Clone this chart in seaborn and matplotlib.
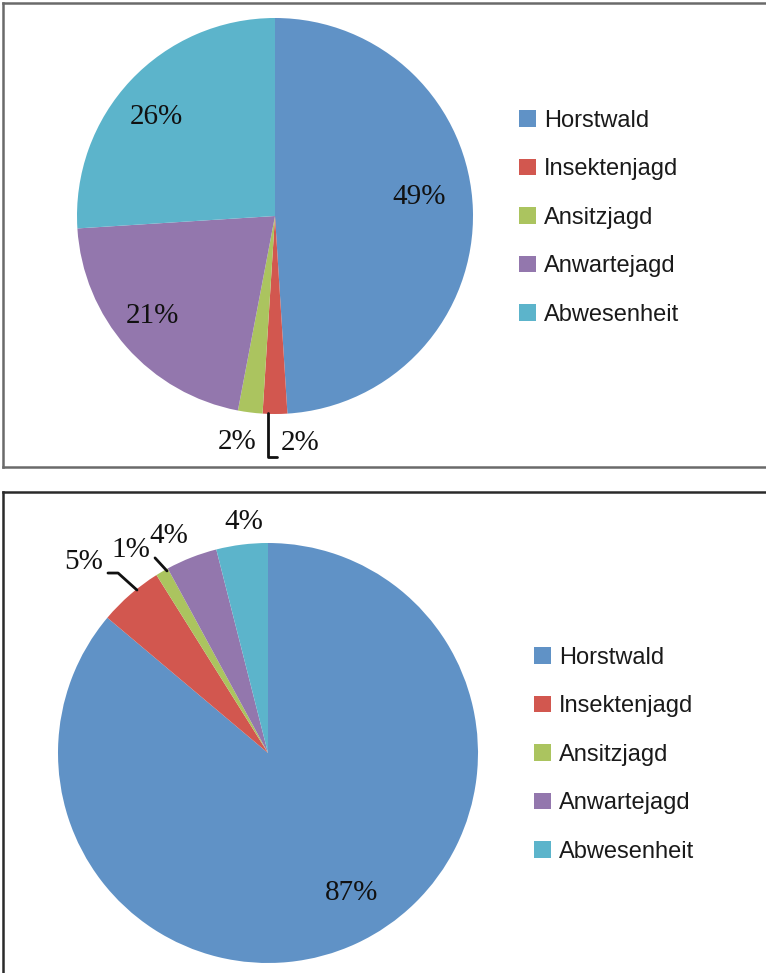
import matplotlib
matplotlib.use("Agg")
import matplotlib.pyplot as plt
import seaborn as sns
from matplotlib.lines import Line2D

# data
categories = ["Horstwald", "Insektenjagd", "Ansitzjagd", "Anwartejagd", "Abwesenheit"]
top_values = [49, 2, 2, 21, 26]
bottom_values = [87, 5, 1, 4, 4]
colors = ["#6092c6", "#d2574f", "#abc45f", "#9377ad", "#5cb4cb"]

sns.set_theme(style="white")
plt.rcParams["font.family"] = ["Liberation Sans", "DejaVu Sans"]

W, H = 766, 973
fig = plt.figure(figsize=(W / 100, H / 100), dpi=100)


def px_axes(x0, y0, x1, y1):
    # pixel box (top-left origin) -> figure axes
    return fig.add_axes([x0 / W, 1 - y1 / H, (x1 - x0) / W, (y1 - y0) / H])


def panel_frame(x0, y0, x1, y1, color):
    fr = px_axes(x0, y0, x1, y1)
    fr.set_xticks([])
    fr.set_yticks([])
    fr.patch.set_alpha(0)
    for s in fr.spines.values():
        s.set_color(color)
        s.set_linewidth(1.8)
    fr.set_zorder(-1)
    return fr


def draw_pie(cx, cy, r, values, label_xy, leaders, legend_xy):
    ax = px_axes(cx - r, cy - r, cx + r, cy + r)
    wedges, _ = ax.pie(values, colors=colors, startangle=90, counterclock=False,
                       radius=1, wedgeprops=dict(linewidth=0))
    ax.set_xlim(-1, 1)
    ax.set_ylim(-1, 1)
    ax.axis("off")
    for v, (x, y) in zip(values, label_xy):
        ax.text(x, y, f"{v}%", ha="center", va="center", fontsize=21,
                family="Liberation Serif", color="#111111", clip_on=False)
    for pts in leaders:
        xs, ys = zip(*pts)
        ax.add_line(Line2D(xs, ys, color="#111111", lw=2, clip_on=False))
    lx, ly = legend_xy
    fig.legend(wedges, categories, loc="upper left",
               bbox_to_anchor=(lx / W, 1 - ly / H), bbox_transform=fig.transFigure,
               frameon=False, fontsize=17, handlelength=0.7, handleheight=0.7,
               handletextpad=0.35, labelspacing=1.12, borderpad=0, borderaxespad=0,
               labelcolor="#1a1a1a")
    return ax


# panel borders
panel_frame(3, 3, 790, 467, "#6a6a6a")
panel_frame(3, 492, 790, 1000, "#2a2a2a")

# top pie
draw_pie(275, 216, 198, top_values,
         label_xy=[(0.73, 0.096), (0.126, -1.146), (-0.19, -1.14),
                   (-0.62, -0.505), (-0.60, 0.50)],
         leaders=[[(-0.035, -0.995), (-0.035, -1.217), (0.01, -1.217)]],
         legend_xy=(519, 110))

# bottom pie
draw_pie(268, 753, 210, bottom_values,
         label_xy=[(0.40, -0.667), (-0.876, 0.91), (-0.652, 0.967),
                   (-0.471, 1.033), (-0.114, 1.10)],
         leaders=[[(-0.762, 0.857), (-0.714, 0.857), (-0.624, 0.776)],
                  [(-0.538, 0.929), (-0.481, 0.867)]],
         legend_xy=(534, 647))

fig.savefig("out.png", dpi=100)
